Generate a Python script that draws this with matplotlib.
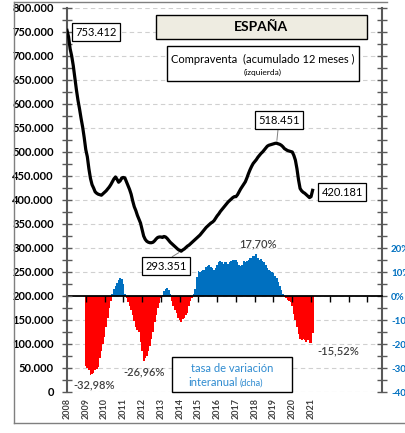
import numpy as np
import matplotlib
matplotlib.use("Agg")
import matplotlib.pyplot as plt
from matplotlib.ticker import MultipleLocator, FuncFormatter
from matplotlib.patches import Rectangle
from matplotlib.lines import Line2D

plt.rcParams["font.family"] = ["Lato", "DejaVu Sans"]

# ─── data ─────────────────────────────────────────────────────────────────────
# compraventa, acumulado 12 meses (miles), monthly Jan 2008 .. Feb 2021
sales_k = [
    753.412, 740, 715, 700, 680, 655, 630, 608, 590, 570, 552, 530,   # 2008
    505, 490, 465, 445, 432, 425, 417, 414, 412, 411, 410, 413,       # 2009
    416, 419, 423, 427, 432, 438, 444, 448, 443, 437, 440, 446,       # 2010
    447, 446, 438, 430, 422, 412, 398, 386, 378, 368, 360, 352,       # 2011
    338, 325, 318, 314, 312, 311, 311, 312, 315, 319, 322, 323,       # 2012
    323, 322, 324, 323, 320, 316, 312, 309, 306, 303, 300, 297,       # 2013
    295, 293.351, 296, 298, 301, 304, 306, 309, 312, 315, 318, 321,   # 2014
    324, 327, 331, 335, 339, 343, 346, 349, 352, 354, 357, 362,       # 2015
    367, 371, 376, 380, 384, 388, 392, 396, 399, 402, 405, 407,       # 2016
    407, 411, 417, 423, 428, 433, 438, 446, 455, 463, 470, 476,       # 2017
    480, 484, 489, 493, 497, 500, 504, 508, 512, 514, 515, 516,       # 2018
    517, 518, 518.451, 517, 516, 514, 511, 507, 505, 503, 502, 501,   # 2019
    500, 493, 483, 465, 442, 424, 419, 416, 414, 411, 408, 405,       # 2020
    407, 420.181,                                                     # 2021
]
sales_start = 2008

# tasa de variacion interanual (%), monthly Jan 2009 .. Feb 2021
rate_pct = [
    -29, -30, -31, -32.98, -32.5, -32, -31, -30.5, -29.5, -26, -23, -20,   # 2009
    -17, -13, -9, -5, -2, 1, 3, 4, 5.5, 6.5, 7.5, 7,                       # 2010
    5, 1, -1, -2.5, -4, -6, -8, -10.5, -13, -14, -15, -19,                 # 2011
    -23, -26.96, -26, -25, -23, -21, -18, -15, -11, -8, -5, -3,            # 2012
    -1, 0.5, 2, 3, 3.5, 2.5, 1, -2, -4, -6, -7, -9,                        # 2013
    -10, -11, -9.5, -9, -8, -7, -4, -2, -1, 1, 3, 8,                       # 2014
    10.5, 10, 10.5, 11, 11, 12, 12.5, 13, 12, 11.5, 11, 11.5,              # 2015
    13, 14, 14.6, 14, 13.5, 14, 14, 13.5, 14, 14.5, 15, 15.2,              # 2016
    15, 14, 13, 12.5, 13, 14.6, 14, 14.5, 15, 16, 16, 16.5,                # 2017
    16.5, 17.7, 16, 15, 15.5, 14.6, 14, 13, 11.7, 11, 10.5, 10,            # 2018
    9.5, 8.5, 7.5, 6, 4, 2.5, 1, -0.5, -1, -1.5, -2, -2.5,                 # 2019
    -4, -7.5, -10, -13, -16, -18, -18.5, -18, -18.5, -19, -18.5, -19.5,    # 2020
    -19.6, -15.52,                                                         # 2021
]
rate_start = 2009

year_labels = [str(y) for y in range(2008, 2022)]
year_ticks = list(range(2008, 2025))

# ─── derived ──────────────────────────────────────────────────────────────────
t_sales = sales_start + np.arange(len(sales_k)) / 12
y_sales = np.array(sales_k) * 1000
t_rate = rate_start + np.arange(len(rate_pct)) / 12
rates = np.array(rate_pct)
bar_cols = np.where(rates >= 0, "#0070C0", "#FF0000")

W, H = 406, 433
fig = plt.figure(figsize=(W / 100, H / 100), dpi=100)
ax = fig.add_axes([67 / W, 1 - 392 / H, (382 - 67) / W, (392 - 8) / H])
ax2 = ax.twinx()
ax.set_zorder(ax2.get_zorder() + 1)
ax.patch.set_visible(False)

# bars (right axis): -40% at the bottom, 0% level with 200.000
ax2.bar(t_rate, rates, width=1.15 / 12, color=bar_cols, linewidth=0,
        antialiased=False, zorder=2)
ax2.set_ylim(-40, 120)
ax2.yaxis.set_major_locator(MultipleLocator(10))
ax2.yaxis.set_minor_locator(MultipleLocator(5))
ax2.yaxis.set_major_formatter(
    FuncFormatter(lambda v, p: f"{v:.0f}%" if v <= 20.5 else ""))
ax2.grid(axis="y", which="major", color="#d0d0d0", ls=(0, (4, 3)), lw=0.8)
ax2.set_axisbelow(True)

# line (left axis)
ax.plot(t_sales, y_sales, color="black", lw=2.3, solid_joinstyle="round", zorder=3)
ax.set_ylim(0, 800000)
ax.set_xlim(2008, 2024.78)
ax.yaxis.set_major_locator(MultipleLocator(50000))
ax.yaxis.set_minor_locator(MultipleLocator(25000))
ax.yaxis.set_major_formatter(FuncFormatter(lambda v, p: f"{int(v):,}".replace(",", ".")))

for a in (ax, ax2):
    for s in ("top", "bottom"):
        a.spines[s].set_visible(False)
ax.spines["right"].set_visible(False)
ax2.spines["left"].set_visible(False)
ax.spines["left"].set_color("#595959")
ax.spines["left"].set_linewidth(1.5)
ax2.spines["right"].set_color("#595959")
ax2.spines["right"].set_linewidth(1.5)

ax.tick_params(axis="y", which="both", direction="inout", length=7, width=1,
               color="#595959", labelsize=8, pad=6)
for lbl in ax.get_yticklabels():
    lbl.set_fontweight("bold")
ax2.tick_params(axis="y", which="both", direction="inout", length=7, width=1,
                color="#595959", labelsize=7, labelcolor="#0070C0", pad=3)
for lbl in ax2.get_yticklabels():
    lbl.set_fontweight("bold")

ax.set_xticks(range(2008, 2022))
ax.set_xticklabels(year_labels, rotation=90, fontsize=6.5, color="#404040",
                   fontweight="bold")
ax.tick_params(axis="x", length=0, pad=4)

# zero line of the rate axis with year ticks
sec = ax.secondary_xaxis(0.25)
sec.set_xticks(year_ticks)
sec.tick_params(axis="x", direction="out", length=4, width=1, color="black",
                labelbottom=False, labeltop=False)
for s in sec.spines.values():
    s.set_linewidth(1.3)
    s.set_color("black")

# ─── annotations ──────────────────────────────────────────────────────────────
box = dict(boxstyle="square,pad=0.3", fc="white", ec="black", lw=0.9)
i_max = int(np.argmax(y_sales[60:])) + 60
i_min = int(np.argmin(y_sales))

ax.annotate("753.412", xy=(t_sales[0], y_sales[0]), xytext=(96, H - 32),
            textcoords="figure pixels", ha="center", va="center", fontsize=8,
            bbox=box)
ax.annotate("518.451", xy=(t_sales[i_max], y_sales[i_max]), xytext=(279, H - 120),
            textcoords="figure pixels", ha="center", va="center", fontsize=8,
            bbox=box, arrowprops=dict(arrowstyle="-", color="#808080", lw=0.7,
                                      shrinkA=0, shrinkB=2))
ax.annotate("293.351", xy=(t_sales[i_min], y_sales[i_min]), xytext=(166, H - 266),
            textcoords="figure pixels", ha="center", va="center", fontsize=8,
            bbox=box, arrowprops=dict(arrowstyle="-", color="#808080", lw=0.7,
                                      shrinkA=0, shrinkB=2,
                                      relpos=(0.5, 1.0)))
ax.annotate("420.181", xy=(t_sales[-1], y_sales[-1]), xytext=(342, H - 192),
            textcoords="figure pixels", ha="center", va="center", fontsize=8,
            bbox=box)

pct_kw = dict(ha="center", va="center", fontsize=8, color="#404040",
              fontweight="semibold")
fig.text(258 / W, 1 - 244 / H, "17,70%", **pct_kw)
fig.text(94 / W, 1 - 385 / H, "-32,98%", **pct_kw)
fig.text(144 / W, 1 - 372 / H, "-26,96%", **pct_kw)
fig.text(338 / W, 1 - 351 / H, "-15,52%", **pct_kw)

# title boxes
fig.add_artist(Rectangle((156 / W, 1 - 39 / H), (367 - 156) / W, 24 / H,
                         transform=fig.transFigure, fc="#EEECE1", ec="black", lw=1))
fig.text(261 / W, 1 - 27 / H, "ESPAÑA", ha="center", va="center",
         fontsize=10, fontweight="bold")
fig.add_artist(Rectangle((167 / W, 1 - 81 / H), (359 - 167) / W, 35 / H,
                         transform=fig.transFigure, fc="white", ec="black", lw=1))
fig.text(263 / W, 1 - 59 / H, "Compraventa  (acumulado 12 meses )",
         ha="center", va="center", fontsize=8)
fig.text(263 / W, 1 - 72 / H, "(izquierda)", ha="center", va="center", fontsize=6)

fig.add_artist(Rectangle((172 / W, 1 - 392 / H), (292 - 172) / W, 35 / H,
                         transform=fig.transFigure, fc="white", ec="black", lw=1,
                         zorder=5))
fig.text(232 / W, 1 - 369 / H, "tasa de variación", ha="center", va="center",
         fontsize=8, color="#2E8BD0", zorder=6)
fig.text(213 / W, 1 - 383 / H, "interanual", ha="center", va="center",
         fontsize=8, color="#2E8BD0", zorder=6)
fig.text(251 / W, 1 - 383 / H, "(dcha)", ha="center", va="center",
         fontsize=6.5, color="#2E8BD0", zorder=6)

# outer frame
frame_kw = dict(transform=fig.transFigure, color="#7f7f7f", lw=1)
fig.add_artist(Line2D([14 / W, 14 / W], [1 - 423 / H, 1 - 2 / H], **frame_kw))
fig.add_artist(Line2D([14 / W, 387 / W], [1 - 2 / H, 1 - 2 / H], **frame_kw))
fig.add_artist(Line2D([14 / W, 1], [1 - 423 / H, 1 - 423 / H], **frame_kw))

fig.savefig("out.png", dpi=100)
